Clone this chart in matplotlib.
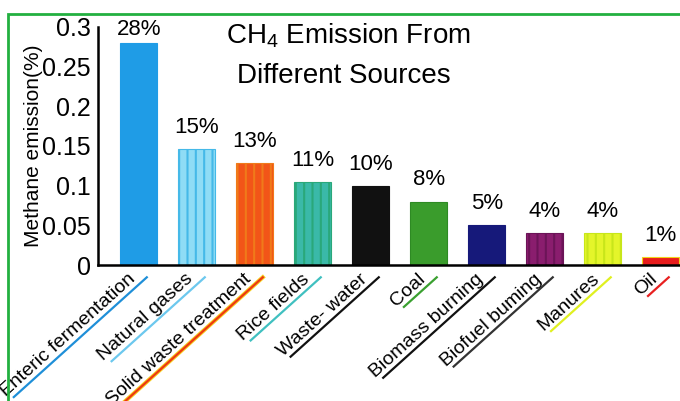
import numpy as np
import matplotlib
matplotlib.use('Agg')
import matplotlib.pyplot as plt
from matplotlib.lines import Line2D
from matplotlib.patches import Rectangle

plt.rcParams['font.family'] = ['Liberation Sans', 'DejaVu Sans']
plt.rcParams['mathtext.fontset'] = 'custom'
plt.rcParams['mathtext.rm'] = 'Liberation Sans'
plt.rcParams['hatch.linewidth'] = 1.5

sources = ['Enteric fermentation', 'Natural gases', 'Solid waste treatment', 'Rice fields',
           'Waste- water', 'Coal', 'Biomass burning', 'Biofuel buming', 'Manures', 'Oil']
emission = [0.28, 0.146, 0.128, 0.105, 0.10, 0.08, 0.05, 0.04, 0.04, 0.01]
pct_labels = ['28%', '15%', '13%', '11%', '10%', '8%', '5%', '4%', '4%', '1%']

bar_colors = ['#1f9ce6', '#8fdcf5', '#f25518', '#3ab9a8', '#111111',
              '#3a9c2c', '#16197a', '#8a1d6e', '#e4f52a', '#e81c1c']
hatch_colors = ['#1f9ce6', '#45b9e8', '#f07a1a', '#2aa87a', '#111111',
                '#2e8a24', '#16197a', '#6c1458', '#c8e61a', '#f2d21a']
hatches = [None, '||', '||', '||', None, None, None, '||', '||', None]
line_colors = ['#1f8fd8', '#6cc8ee', '#ee3a10', '#40c0c0', '#111111',
               '#3aa030', '#111111', '#333333', '#e0f020', '#e82020']
label_gap = [2, 8, 8, 8, 8, 8, 8, 8, 8, 8]

fig = plt.figure(figsize=(6.8, 4.01), dpi=100)
ax = fig.add_axes([0.144, 0.339, 0.856, 0.594])

x = np.arange(len(sources))
for i in range(len(sources)):
    ax.bar(x[i], emission[i], width=0.64, color=bar_colors[i],
           edgecolor=hatch_colors[i], hatch=hatches[i], linewidth=0.8)
    ax.annotate(pct_labels[i], (x[i], emission[i]), xytext=(0, label_gap[i]),
                textcoords='offset points', ha='center', va='bottom', fontsize=16)

ax.set_xlim(-0.707, 9.33)
ax.set_ylim(0, 0.3)
ax.set_yticks([0, 0.05, 0.1, 0.15, 0.2, 0.25, 0.3])
ax.set_yticklabels(['0', '0.05', '0.1', '0.15', '0.2', '0.25', '0.3'])
ax.tick_params(axis='y', length=0, pad=5, labelsize=18)
ax.set_xticks([])
for s in ['top', 'right']:
    ax.spines[s].set_visible(False)
ax.spines['left'].set_linewidth(1.8)
ax.spines['bottom'].set_linewidth(1.8)
ax.set_ylabel('Methane emission(%)', fontsize=15)
ax.yaxis.set_label_coords(-0.095, 0.5)

theta = 42
lx = x - 0.2
ly = -0.007
labels = []
for i in range(len(sources)):
    t = ax.text(lx[i], ly, sources[i], rotation=theta, rotation_mode='anchor',
                ha='right', va='top', fontsize=14)
    labels.append(t)

fig.text(0.513, 0.91, 'CH$_4$ Emission From', ha='center', va='center', fontsize=20)
fig.text(0.506, 0.81, 'Different Sources', ha='center', va='center', fontsize=20)

# coloured underlines beneath the slanted labels
fig.canvas.draw()
renderer = fig.canvas.get_renderer()
u = np.array([np.cos(np.radians(theta)), np.sin(np.radians(theta))])
n = np.array([np.sin(np.radians(theta)), -np.cos(np.radians(theta))])
inv = fig.transFigure.inverted()
for i, t in enumerate(labels):
    t.set_rotation(0)
    bb = t.get_window_extent(renderer)
    w, h = bb.width, bb.height
    t.set_rotation(theta)
    a = ax.transData.transform((lx[i], ly))
    p0 = a + (h + 1) * n - (w - 6) * u
    p1 = a + (h + 1) * n + 10 * u
    pts = inv.transform(np.vstack([p0, p1]))
    if i == 2:
        fig.add_artist(Line2D(pts[:, 0], pts[:, 1], color='#f5d020', lw=3.0,
                              transform=fig.transFigure))
    fig.add_artist(Line2D(pts[:, 0], pts[:, 1], color=line_colors[i], lw=1.6,
                          transform=fig.transFigure))

# green frame of the scanned figure
fig.add_artist(Rectangle((8 / 680, -0.2), 1.2, 1 - 14 / 401 + 0.2, fill=False,
                         edgecolor='#22b040', lw=2, transform=fig.transFigure))

fig.savefig('out.png', dpi=100)
